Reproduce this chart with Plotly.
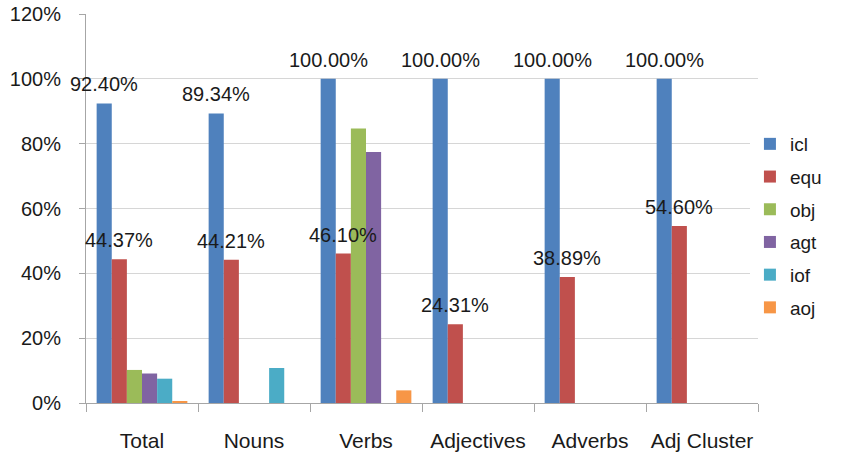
import plotly.graph_objects as go

categories = ["Total", "Nouns", "Verbs", "Adjectives", "Adverbs", "Adj Cluster"]
series_names = ["icl", "equ", "obj", "agt", "iof", "aoj"]

icl = [92.40, 89.34, 100.00, 100.00, 100.00, 100.00]
equ = [44.37, 44.21, 46.10, 24.31, 38.89, 54.60]
obj = [10.2, 0, 84.7, 0, 0, 0]
agt = [9.1, 0, 77.4, 0, 0, 0]
iof = [7.5, 10.8, 0, 0, 0, 0]
aoj = [0.4, 0, 3.9, 0, 0, 0]

series_values = [icl, equ, obj, agt, iof, aoj]
labelled = ["icl", "equ"]
colors = ["#4F81BD", "#C0504D", "#9BBB59", "#8064A2", "#4BACC6", "#F79646"]
font_family = "Liberation Sans, Arial, sans-serif"
text_color = "#1a1a1a"

W, H = 843, 456
margin = dict(l=86, r=85, t=14, b=53)
bargap = 0.19

fig = go.Figure()
for name, vals, col in zip(series_names, series_values, colors):
    fig.add_trace(go.Bar(
        name=name,
        legendgroup=name,
        x=categories,
        y=[v / 100 for v in vals],
        marker=dict(color=col, line=dict(width=0)),
        hovertemplate="%{x}: %{y:.2%}<extra>" + name + "</extra>",
    ))

# Value labels drawn above the bars (kept on top of every bar layer)
plot_w = W - margin["l"] - margin["r"]
px_per_cat = plot_w / len(categories)
group_w = 1 - bargap
bar_w = group_w / len(series_names)
for name in labelled:
    idx = series_names.index(name)
    vals = series_values[idx]
    center = -group_w / 2 + bar_w * (idx + 0.5)
    for cat, v in zip(categories, vals):
        fig.add_annotation(
            x=cat, y=v / 100, text=f"{v:.2f}%",
            xref="x", yref="y",
            xanchor="center", yanchor="bottom",
            xshift=center * px_per_cat, yshift=6,
            showarrow=False,
            font=dict(size=20, color=text_color, family=font_family),
        )

fig.update_layout(
    width=W, height=H,
    margin=dict(margin, autoexpand=False),
    barmode="group",
    bargap=bargap,
    bargroupgap=0,
    plot_bgcolor="white",
    paper_bgcolor="white",
    font=dict(family=font_family, size=20, color=text_color),
    legend=dict(
        x=0.988, y=0.455, xanchor="left", yanchor="middle",
        font=dict(size=19, color=text_color),
        itemwidth=30,
        tracegroupgap=5,
    ),
    showlegend=True,
)
fig.update_xaxes(
    automargin=False,
    range=[-0.5, len(categories) - 0.5],
    showline=True, linecolor="#a6a6a6", linewidth=1,
    ticks="outside", tickson="boundaries", ticklen=8, tickcolor="#a6a6a6",
    ticklabelstandoff=19,
    tickangle=0,
    tickfont=dict(size=21),
    showgrid=False,
)
fig.update_yaxes(
    automargin=False,
    range=[0, 1.2], dtick=0.2, tickformat=".0%",
    showline=True, linecolor="#a6a6a6", linewidth=1,
    ticks="outside", ticklen=6, tickcolor="#a6a6a6",
    ticklabelstandoff=14,
    gridcolor="#d6d6d6", gridwidth=1,
    zeroline=False,
    tickfont=dict(size=20),
)

fig.write_html("out.html")
